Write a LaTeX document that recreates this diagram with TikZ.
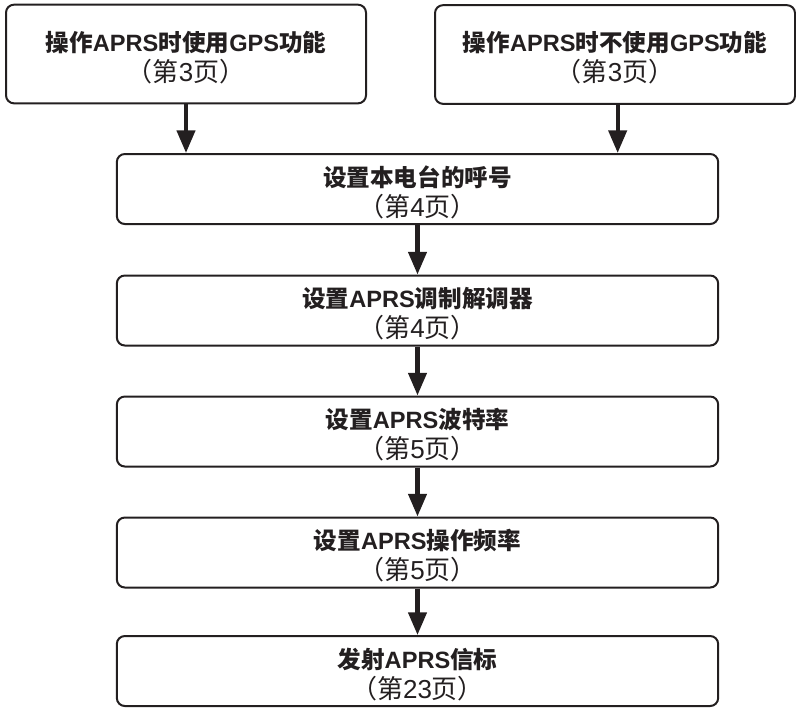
\documentclass[tikz,border=0pt]{standalone}
\usepackage{fontspec}
\setmainfont{Liberation Sans}
\newfontfamily\cjk{Noto Sans CJK SC}
\newcommand\zh[1]{{\cjk #1}}
\newcommand\pg[1]{{\fontsize{19.5}{22.5}\selectfont\zh{（第}#1\zh{页）}}}
\usetikzlibrary{arrows.meta}
\definecolor{ink}{HTML}{231F20}
\begin{document}
\begin{tikzpicture}[x=0.75pt,y=-0.75pt,
  box/.style={draw=ink,line width=1.5pt,rounded corners=6pt,inner sep=0pt},
  topbox/.style={box,minimum width=270pt,minimum height=74pt},
  midbox/.style={box,minimum width=451pt,minimum height=52.5pt},
  lbl/.style={inner sep=0pt,align=center,text=ink,font=\fontsize{17.7}{22.5}\selectfont},
  flow/.style={draw=ink,line width=3.2pt,-{Triangle[width=13.5pt,length=17pt]}}]
\useasboundingbox (0,0) rectangle (796,708);
\node[topbox] (tl) at (186,54) {};
\node[topbox] (tr) at (615,54.5) {};
\node[midbox] (m1) at (417.5,189) {};
\node[midbox] (m2) at (417.5,310.5) {};
\node[midbox] (m3) at (417.5,431.5) {};
\node[midbox] (m4) at (417.5,552.5) {};
\node[midbox] (m5) at (417.5,671) {};
\node[lbl] (tlt) at ([yshift=-2.6pt]tl.center) {\textbf{\zh{操作}APRS\zh{时使用}GPS\zh{功能}}\\\pg{3}};
\node[lbl] (trt) at ([yshift=-2.6pt]tr.center) {\textbf{\zh{操作}APRS\zh{时不使用}GPS\zh{功能}}\\\pg{3}};
\node[lbl] (m1t) at ([yshift=-2.3pt]m1.center) {\textbf{\zh{设置本电台的呼号}}\\\pg{4}};
\node[lbl] (m2t) at ([yshift=-2.3pt]m2.center) {\textbf{\zh{设置}APRS\zh{调制解调器}}\\\pg{4}};
\node[lbl] (m3t) at ([yshift=-2.3pt]m3.center) {\textbf{\zh{设置}APRS\zh{波特率}}\\\pg{5}};
\node[lbl] (m4t) at ([yshift=-2.3pt]m4.center) {\textbf{\zh{设置}APRS\zh{操作频率}}\\\pg{5}};
\node[lbl] (m5t) at ([yshift=-2.3pt]m5.center) {\textbf{\zh{发射}APRS\zh{信标}}\\\pg{23}};
\draw[flow] (tl.south) -- (tl.south |- m1.north);
\draw[flow] ([xshift=2pt]tr.south) -- ([xshift=2pt]tr.south |- m1.north);
\draw[flow] (m1) -- (m2);
\draw[flow] (m2) -- (m3);
\draw[flow] (m3) -- (m4);
\draw[flow] (m4) -- (m5);
\end{tikzpicture}
\end{document}
